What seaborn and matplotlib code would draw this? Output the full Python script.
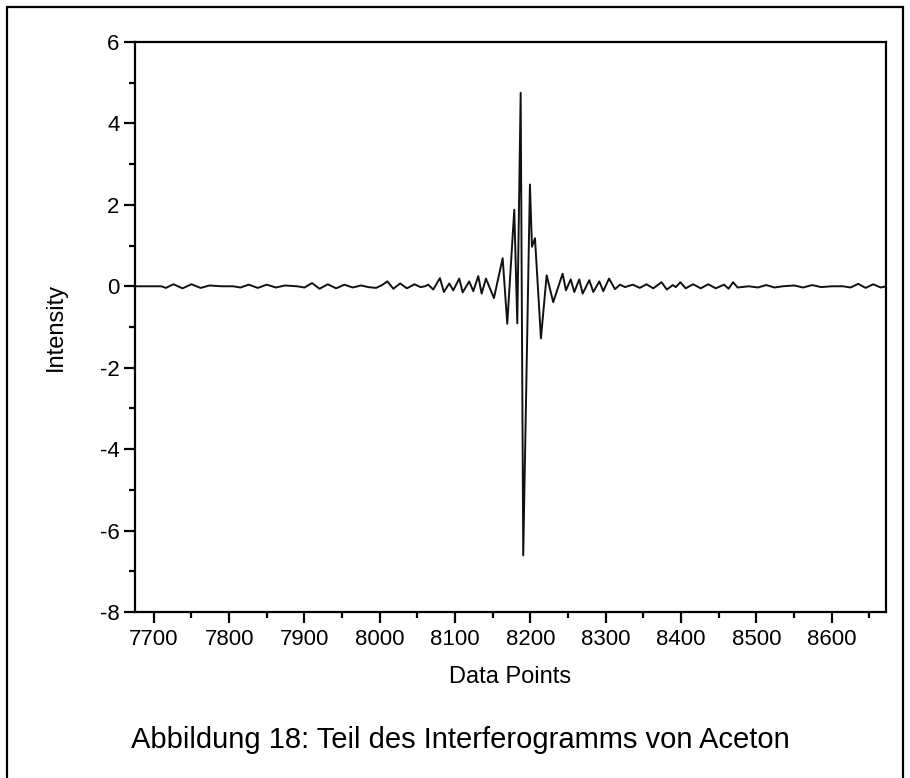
import matplotlib
matplotlib.use("Agg")
import matplotlib.pyplot as plt
import matplotlib.patches as patches
from matplotlib.ticker import MultipleLocator
import seaborn as sns
import pandas as pd

# ---- data (extrema of the interferogram) ----
data_points = [
    7675, 7710, 7716, 7726, 7738, 7750, 7762, 7774, 7790, 7805, 7815, 7826, 7838,
    7850, 7862, 7874, 7890, 7900, 7910, 7920, 7931, 7942, 7953, 7964, 7975, 7985,
    7995, 8003, 8010, 8018, 8027, 8036, 8046, 8054, 8060,
    8064.3, 8070.9, 8079.8, 8085.1, 8092.2, 8097.5, 8105.5, 8110.0, 8118.7, 8124.1,
    8130.7, 8135.2, 8140.9, 8151.5, 8163.1, 8169.2, 8178.5, 8182.5, 8187.0, 8190.4,
    8199.3, 8202.0, 8206.0, 8213.9, 8221.5, 8230.2, 8242.7, 8247.1, 8253.4, 8258.2,
    8264.8, 8269.3, 8278.1, 8283.4, 8291.4, 8296.7, 8304.3, 8312.2, 8318.9, 8325.5,
    8336, 8345, 8354, 8363, 8374, 8381, 8389, 8393, 8399, 8406, 8416, 8426, 8436,
    8446, 8457, 8463, 8469, 8475, 8490, 8502, 8513, 8524, 8535, 8550, 8562, 8574,
    8586, 8600, 8615, 8625, 8635, 8645, 8655, 8665, 8672,
]
intensity = [
    0.00, 0.00, -0.04, 0.05, -0.05, 0.05, -0.04, 0.02, 0.00, 0.00, -0.03, 0.04, -0.04,
    0.04, -0.03, 0.02, 0.00, -0.03, 0.08, -0.06, 0.05, -0.05, 0.04, -0.03, 0.02, -0.02,
    -0.04, 0.03, 0.12, -0.06, 0.07, -0.05, 0.05, -0.02, 0.00,
    0.04, -0.08, 0.20, -0.14, 0.07, -0.10, 0.19, -0.15, 0.12, -0.12,
    0.25, -0.18, 0.19, -0.29, 0.69, -0.92, 1.88, -0.91, 4.75, -6.61,
    2.50, 0.97, 1.18, -1.28, 0.27, -0.39, 0.31, -0.10, 0.17, -0.14,
    0.17, -0.18, 0.15, -0.14, 0.12, -0.12, 0.19, -0.07, 0.04, -0.02,
    0.04, -0.04, 0.05, -0.05, 0.10, -0.08, 0.03, -0.02, 0.10, -0.05, 0.05, -0.05, 0.05,
    -0.05, 0.04, -0.06, 0.10, -0.03, 0.00, -0.03, 0.03, -0.03, 0.00, 0.02, -0.03, 0.03,
    -0.02, 0.00, 0.00, -0.03, 0.06, -0.04, 0.05, -0.03, 0.00,
]
x_ticks = [7700, 7800, 7900, 8000, 8100, 8200, 8300, 8400, 8500, 8600]
y_ticks = [-8, -6, -4, -2, 0, 2, 4, 6]
x_label = "Data Points"
y_label = "Intensity"
caption = "Abbildung 18: Teil des Interferogramms von Aceton"

df = pd.DataFrame({"x": data_points, "y": intensity})

sns.set_style("ticks")
plt.rcParams["font.family"] = ["Liberation Sans", "DejaVu Sans"]
plt.rcParams["axes.unicode_minus"] = False
plt.rcParams["text.color"] = "black"
plt.rcParams["axes.labelcolor"] = "black"

fig = plt.figure(figsize=(9.10, 7.78), dpi=100)
ax = fig.add_axes([135 / 910, 1 - 612 / 778, (886 - 135) / 910, (612 - 42) / 778])

sns.lineplot(data=df, x="x", y="y", ax=ax, color="#111111", linewidth=1.4,
             sort=False, estimator=None)

ax.set_xlim(7675, 8672)
ax.set_ylim(-8, 6)
ax.set_xticks(x_ticks)
ax.set_yticks(y_ticks)
ax.xaxis.set_minor_locator(MultipleLocator(50))
ax.yaxis.set_minor_locator(MultipleLocator(1))
ax.tick_params(axis="both", which="major", direction="out", length=8, width=1.6,
               labelsize=16, color="black", labelcolor="black")
ax.tick_params(axis="both", which="minor", direction="out", length=4, width=1.6,
               color="black")
ax.tick_params(axis="x", which="major", pad=4)
ax.tick_params(axis="y", which="major", pad=3)
for s in ax.spines.values():
    s.set_visible(True)
    s.set_linewidth(1.6)
    s.set_color("black")

ax.set_xlabel(x_label, fontsize=17, labelpad=12, color="black")
ax.set_ylabel(y_label, fontsize=17, labelpad=24, color="black")

fig.text(131 / 910, 1 - 740 / 778, caption, fontsize=21, ha="left", va="center",
         color="black")

border = patches.Rectangle((7 / 910, -0.01), (903 - 7) / 910, 1.01 - 7 / 778,
                           transform=fig.transFigure, fill=False,
                           edgecolor="black", linewidth=1.6)
fig.patches.append(border)

fig.savefig("out.png", dpi=100, facecolor="white")
